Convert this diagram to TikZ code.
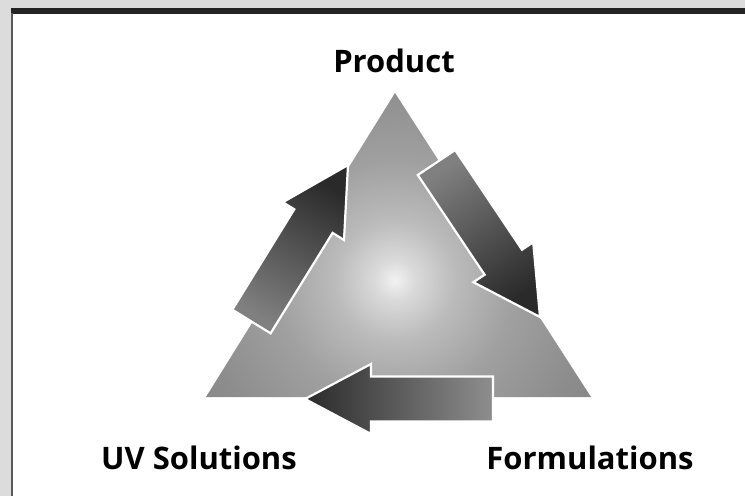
\documentclass[tikz,border=0pt]{standalone}
\usepackage{fontspec}
\setmainfont{Open Sans}
\definecolor{bggray}{HTML}{DCDCDC}
\definecolor{barcol}{HTML}{242424}
\definecolor{sidecol}{HTML}{5A5A5A}
\definecolor{tc0}{HTML}{F2F2F2}
\definecolor{tc1}{HTML}{DADADA}
\definecolor{tc2}{HTML}{BBBBBB}
\definecolor{tc3}{HTML}{A0A0A0}
\definecolor{tc4}{HTML}{8C8C8C}
\definecolor{tc5}{HTML}{7E7E7E}
\definecolor{tc6}{HTML}{747474}
\definecolor{arrdark}{HTML}{2A2A2A}
\definecolor{arrlight}{HTML}{808080}
\definecolor{arrlightb}{HTML}{8E8E8E}
\pgfdeclareradialshading{trishade}{\pgfpoint{0bp}{0bp}}{color(0bp)=(tc0); color(2bp)=(tc1); color(6bp)=(tc2); color(12bp)=(tc3); color(20bp)=(tc4); color(30bp)=(tc5); color(50bp)=(tc6)}
\tikzset{
  label/.style={font=\bfseries\fontsize{31}{33}\selectfont, text=black, inner sep=0pt, anchor=base},
  bigarrow/.style={draw=white, line width=2.2pt, line join=miter},
}
\begin{document}
\begin{tikzpicture}[x=1pt,y=-1pt]
\useasboundingbox (0,0) rectangle (745,496);
% frame
\fill[bggray] (0,0) rectangle (745,496);
\fill[white] (12,13) rectangle (745,496);
\fill[barcol] (11,8) rectangle (745,13.5);
\fill[sidecol] (11,13) rectangle (13,496);
% triangle
\coordinate (apex) at (395,93);
\coordinate (bl) at (206,397);
\coordinate (br) at (591,397);
\begin{scope}
  \clip (apex) -- (br) -- (bl) -- cycle;
  \shade[shading=trishade] (395,280) circle (250);
\end{scope}
% arrows
\shade[bigarrow, top color=arrdark, bottom color=arrlight, shading angle=-30]
  (232.3,309.7) -- (294.3,209.3) -- (282.8,202.2) -- (348,165) -- (344.0,240.0) -- (332.6,232.9) -- (270.6,333.3) -- cycle;
\shade[bigarrow, top color=arrdark, bottom color=arrlight, shading angle=-146]
  (455.2,150.0) -- (522.0,249.7) -- (533.2,242.2) -- (540,317) -- (473.4,282.2) -- (484.6,274.7) -- (417.8,175.0) -- cycle;
\shade[bigarrow, top color=arrdark, bottom color=arrlightb, shading angle=90]
  (493,376.5) -- (371,376.5) -- (371,364) -- (305,399) -- (371,434) -- (371,421.5) -- (493,421.5) -- cycle;
% labels
\node[label] (product) at (394,72) {Product};
\node[label] (uv) at (199,469) {UV Solutions};
\node[label] (form) at (590,469) {Formulations};
\end{tikzpicture}
\end{document}
